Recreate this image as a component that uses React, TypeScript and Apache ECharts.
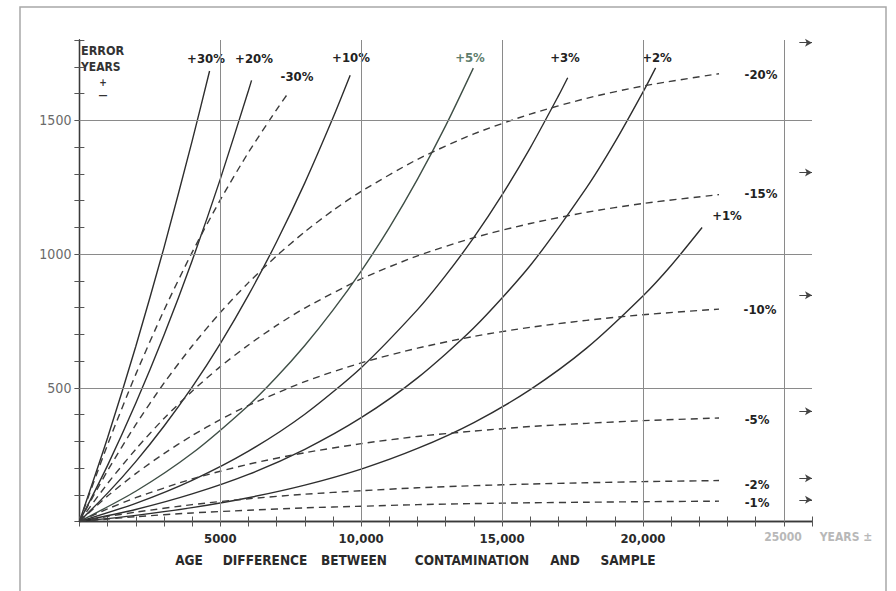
import React, { useEffect, useRef } from "react";
import * as echarts from "echarts";

// Dating error (years) versus age difference between contamination and sample.
// Solid curves: contamination younger than the sample (+%); dashed: older (−%).
const plus1 = [[0, 0], [2000, 23], [4000, 52], [6000, 89], [8000, 136], [10000, 196], [12000, 273], [14000, 370], [16000, 493], [18000, 648], [20000, 843], [21000, 957], [22100, 1099]];
const plus2 = [[0, 0], [2000, 45], [4000, 103], [6000, 176], [8000, 270], [10000, 388], [12000, 537], [14000, 724], [16000, 957], [18000, 1248], [19000, 1417], [20000, 1605], [20450, 1696]];
const plus3 = [[0, 0], [2000, 68], [4000, 154], [6000, 263], [8000, 401], [10000, 575], [12000, 792], [13000, 920], [14000, 1062], [15000, 1221], [16000, 1397], [17000, 1591], [17330, 1659]];
const plus5 = [[0, 0], [2000, 113], [4000, 255], [6000, 434], [7000, 540], [8000, 658], [9000, 790], [10000, 936], [11000, 1099], [12000, 1280], [13000, 1480], [13980, 1695]];
const plus10 = [[0, 0], [1000, 106], [2000, 224], [3000, 356], [4000, 502], [5000, 665], [6000, 846], [7000, 1046], [8000, 1266], [9000, 1509], [9610, 1668]];
const plus20 = [[0, 0], [1000, 210], [2000, 442], [3000, 696], [4000, 975], [5000, 1280], [6000, 1611], [6110, 1649]];
const plus30 = [[0, 0], [1000, 313], [2000, 654], [3000, 1023], [4000, 1422], [4620, 1684]];

const minus1 = [[0, 0], [1000, 9], [2000, 18], [4000, 32], [6000, 42], [8000, 51], [10000, 57], [12000, 63], [14000, 67], [16000, 70], [18000, 72], [20000, 74], [22700, 76]];
const minus2 = [[0, 0], [1000, 19], [2000, 35], [4000, 63], [6000, 85], [8000, 102], [10000, 115], [12000, 126], [14000, 134], [16000, 140], [18000, 145], [20000, 149], [22700, 153]];
const minus5 = [[0, 0], [1000, 47], [2000, 89], [4000, 159], [6000, 214], [8000, 257], [10000, 291], [12000, 318], [14000, 338], [16000, 355], [18000, 367], [20000, 377], [22700, 387]];
const minus10 = [[0, 0], [1000, 95], [2000, 179], [3000, 254], [4000, 321], [5000, 381], [6000, 434], [8000, 523], [10000, 593], [12000, 648], [14000, 692], [16000, 726], [18000, 752], [20000, 773], [22700, 794]];
const minus15 = [[0, 0], [1000, 142], [2000, 270], [3000, 385], [4000, 487], [5000, 579], [6000, 660], [7000, 733], [8000, 798], [10000, 907], [12000, 993], [14000, 1061], [16000, 1114], [18000, 1156], [20000, 1189], [22700, 1222]];
const minus20 = [[0, 0], [1000, 190], [2000, 362], [3000, 517], [4000, 656], [5000, 781], [6000, 893], [7000, 993], [8000, 1083], [9000, 1163], [10000, 1234], [12000, 1354], [14000, 1449], [16000, 1523], [18000, 1582], [20000, 1628], [22700, 1674]];
const minus30 = [[0, 0], [1000, 287], [2000, 550], [3000, 789], [4000, 1006], [5000, 1202], [6000, 1380], [7000, 1540], [7420, 1603]];

// Limiting errors for old-carbon contamination, marked on the right-hand scale
const asymptotes = [1790, 1305, 846, 412, 162, 81];

// Axis tick labels and grid lines
const xTickLabels: Record<number, string> = { 5000: "5000", 10000: "10,000", 15000: "15,000", 20000: "20,000" };
const yTickLabels = [500, 1000, 1500];
const xGrid = [5000, 10000, 15000, 20000, 25000];
const yGrid = [500, 1000, 1500];

const INK = "#2e2e2e";
const FONT = "'DejaVu Sans Condensed', 'DejaVu Sans', sans-serif";

const curves = [
  { name: "+30%", data: plus30, dashed: false },
  { name: "+20%", data: plus20, dashed: false },
  { name: "+10%", data: plus10, dashed: false },
  { name: "+5%", data: plus5, dashed: false, color: "#3f4f46" },
  { name: "+3%", data: plus3, dashed: false },
  { name: "+2%", data: plus2, dashed: false },
  { name: "+1%", data: plus1, dashed: false },
  { name: "-30%", data: minus30, dashed: true },
  { name: "-20%", data: minus20, dashed: true },
  { name: "-15%", data: minus15, dashed: true },
  { name: "-10%", data: minus10, dashed: true },
  { name: "-5%", data: minus5, dashed: true },
  { name: "-2%", data: minus2, dashed: true },
  { name: "-1%", data: minus1, dashed: true },
];

// Curve captions placed beside the line ends (pixel positions)
const captions: { text: string; x: number; y: number; color?: string }[] = [
  { text: "+30%", x: 206, y: 58 },
  { text: "+20%", x: 254, y: 58 },
  { text: "-30%", x: 297, y: 76 },
  { text: "+10%", x: 351, y: 57 },
  { text: "+5%", x: 470, y: 57, color: "#5e7d6c" },
  { text: "+3%", x: 565, y: 57 },
  { text: "+2%", x: 657, y: 57 },
  { text: "-20%", x: 761, y: 74 },
  { text: "-15%", x: 761, y: 193 },
  { text: "+1%", x: 727, y: 215 },
  { text: "-10%", x: 760, y: 309 },
  { text: "-5%", x: 757, y: 419 },
  { text: "-2%", x: 757, y: 484 },
  { text: "-1%", x: 757, y: 502 },
];

const titleWords = [
  { text: "AGE", x: 189 },
  { text: "DIFFERENCE", x: 265 },
  { text: "BETWEEN", x: 354 },
  { text: "CONTAMINATION", x: 472 },
  { text: "AND", x: 565 },
  { text: "SAMPLE", x: 628 },
];

function txt(text: string, x: number, y: number, size: number, fill: string, weight = "bold", align = "center") {
  return {
    type: "text",
    x,
    y,
    silent: true,
    style: {
      text,
      fill,
      font: `${weight} ${size}px ${FONT}`,
      textAlign: align,
      textVerticalAlign: "middle",
    },
  };
}

export default function App() {
  const ref = useRef<HTMLDivElement>(null);

  useEffect(() => {
    if (!ref.current) return;
    const chart = echarts.init(ref.current, null, { renderer: "svg" });

    const axisCommon = {
      type: "value",
      axisLine: { show: true, lineStyle: { color: "#3a3a3a", width: 1.3 } },
      axisTick: { show: true, inside: true, length: 5, lineStyle: { color: "#555", width: 1 } },
      splitLine: { show: false },
    };

    const series: any[] = curves.map((c) => ({
      type: "line",
      name: c.name,
      data: c.data,
      showSymbol: false,
      symbol: "none",
      smooth: 0.25,
      silent: true,
      lineStyle: {
        color: c.color || (c.dashed ? "#3c3c3c" : INK),
        width: 1.4,
        type: c.dashed ? [7, 5] : "solid",
      },
      z: 3,
    }));

    series.push({
      type: "line",
      name: "grid",
      data: [],
      silent: true,
      z: 1,
      markLine: {
        silent: true,
        symbol: "none",
        label: { show: false },
        lineStyle: { color: "#8a8a8a", width: 1, type: "solid" },
        data: [...xGrid.map((v) => ({ xAxis: v })), ...yGrid.map((v) => ({ yAxis: v }))],
      },
    });

    series.push({
      type: "line",
      name: "limits",
      data: [],
      silent: true,
      z: 2,
      markLine: {
        silent: true,
        symbol: ["none", "arrow"],
        symbolSize: [6, 7],
        label: { show: false },
        lineStyle: { color: "#444", width: 1, type: "solid" },
        data: asymptotes.map((v) => [{ coord: [25550, v] }, { coord: [26000, v] }]),
      },
    });

    const graphics: any[] = [
      {
        type: "rect",
        silent: true,
        shape: { x: 20, y: 7, width: 866, height: 600 },
        style: { fill: "none", stroke: "#a8a8a8", lineWidth: 1.5 },
        z: 0,
      },
      txt("ERROR", 81, 50, 12.5, "#333", "bold", "left"),
      txt("YEARS", 81, 67, 12, "#333", "bold", "left"),
      txt("+", 103, 82, 10, "#333"),
      txt("—", 103, 95, 10, "#333"),
      txt("25000", 783, 537, 12, "#b8b8b8"),
      txt("YEARS ±", 846, 537, 12, "#b8b8b8"),
      ...captions.map((c) => txt(c.text, c.x, c.y, 13, c.color || "#222")),
      ...titleWords.map((w) => txt(w.text, w.x, 560, 13.5, "#2a2a2a")),
    ];

    chart.setOption({
      animation: false,
      backgroundColor: "#ffffff",
      grid: { left: 79.4, top: 40, width: 732.6, height: 481.5, containLabel: false },
      xAxis: [
        {
          ...axisCommon,
          position: "bottom",
          min: 0,
          max: 26000,
          interval: 1000,
          axisLabel: {
            show: true,
            margin: 10,
            color: "#2a2a2a",
            fontFamily: FONT,
            fontWeight: "bold",
            fontSize: 13,
            formatter: (v: number) => xTickLabels[v] || "",
          },
        },
        {
          ...axisCommon,
          position: "top",
          min: 0,
          max: 26000,
          interval: 1000,
          axisLabel: { show: false },
        },
      ],
      yAxis: [
        {
          ...axisCommon,
          position: "left",
          min: 0,
          max: 1800,
          interval: 100,
          axisLabel: {
            show: true,
            margin: 8,
            color: "#6a6a6a",
            fontFamily: FONT,
            fontSize: 14,
            formatter: (v: number) => (yTickLabels.includes(v) ? String(v) : ""),
          },
        },
        {
          ...axisCommon,
          position: "right",
          min: 0,
          max: 1800,
          interval: 100,
          axisLabel: { show: false },
        },
      ],
      series,
      graphic: graphics,
    });

    return () => chart.dispose();
  }, []);

  return (
    <div
      ref={ref}
      style={{ position: "fixed", left: 0, top: 0, width: 896, height: 591, background: "#fff" }}
    />
  );
}
